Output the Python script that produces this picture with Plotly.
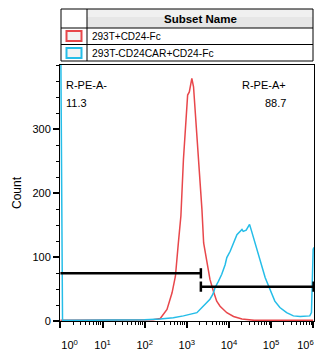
import plotly.graph_objects as go

# ---------------- data ----------------
red_name = "293T+CD24-Fc"
blue_name = "293T-CD24CAR+CD24-Fc"

red_log = [0.0, 0.5, 1.0, 1.5, 2.0, 2.2, 2.37, 2.53, 2.65, 2.73, 2.80, 2.86, 2.92, 2.99, 3.02,
           3.06, 3.12, 3.16, 3.20, 3.25, 3.30, 3.36, 3.40, 3.48, 3.55, 3.63, 3.71,
           3.79, 3.95, 4.11, 4.31, 4.6, 5.0, 5.5, 6.0]
red_count = [1, 1, 1, 1, 1, 2, 4, 18, 44, 70, 122, 164, 252, 330, 353,
             358, 379, 366, 330, 278, 226, 174, 122, 91, 65, 47, 31,
             23, 13, 7, 3, 1, 1, 1, 1]

blue_log = [0.0, 0.05, 0.5, 1.0, 1.5, 2.0, 2.37, 2.68, 2.92, 3.08, 3.24, 3.36, 3.48, 3.55,
            3.62, 3.67, 3.75, 3.83, 3.91, 3.95, 4.03, 4.11, 4.19, 4.31, 4.34,
            4.41, 4.49, 4.54, 4.62, 4.70, 4.78, 4.86, 4.94, 5.02, 5.09, 5.21,
            5.37, 5.53, 5.69, 5.92, 5.96, 6.0, 6.02]
blue_count = [520, 1, 1, 1, 1, 2, 3, 5, 8, 11, 13, 21, 29, 34,
              42, 52, 62, 73, 88, 99, 109, 122, 135, 143, 140,
              142, 151, 140, 122, 104, 86, 68, 55, 42, 31, 21,
              13, 8, 7, 8, 13, 112, 115]

gate_split_log = 3.334
gate_neg_y = 74.5
gate_pos_y = 53.7
gate_names = ["R-PE-A-", "R-PE-A+"]
gate_pcts = ["11.3", "88.7"]

y_tick_vals = [0, 100, 200, 300]
x_tick_exps = [0, 1, 2, 3, 4, 5, 6]

RED = "#e8474b"
BLUE = "#25bde8"
FONT = "Liberation Sans, Arial, sans-serif"

# ---------------- figure ----------------
fig = go.Figure()

fig.add_trace(go.Scatter(x=[10 ** v for v in red_log], y=red_count, mode="lines",
                         line=dict(color=RED, width=1.5), showlegend=False))
fig.add_trace(go.Scatter(x=[10 ** v for v in blue_log], y=blue_count, mode="lines",
                         line=dict(color=BLUE, width=1.5), showlegend=False))

# gates
xs = 10 ** gate_split_log
tk = 8
gx = [1, xs, None, xs, xs]
gy = [gate_neg_y, gate_neg_y, None, gate_neg_y - tk, gate_neg_y + tk]
fig.add_trace(go.Scatter(x=gx, y=gy, mode="lines", line=dict(color="black", width=2.5),
                         showlegend=False))
gx2 = [xs, 10 ** 6.02, None, xs, xs, None, 10 ** 6.01, 10 ** 6.01]
gy2 = [gate_pos_y, gate_pos_y, None, gate_pos_y - tk, gate_pos_y + tk, None,
       gate_pos_y - tk, gate_pos_y + tk]
fig.add_trace(go.Scatter(x=gx2, y=gy2, mode="lines", line=dict(color="black", width=2.5),
                         showlegend=False))

L, R, T, B = 60, 10, 65, 36
W, H = 324, 357
pw, ph = W - L - R, H - T - B


def px(x):
    return (x - L) / pw


def py(y):
    return (H - B - y) / ph


shapes = []
# table
shapes.append(dict(type="rect", xref="paper", yref="paper", x0=px(87), x1=px(313),
                   y0=py(28), y1=py(9), fillcolor="#e6e6e6", line=dict(width=0), layer="below"))
shapes.append(dict(type="rect", xref="paper", yref="paper", x0=px(87), x1=px(313),
                   y0=py(17), y1=py(9), fillcolor="#f0f0f0", line=dict(width=0), layer="below"))
shapes.append(dict(type="rect", xref="paper", yref="paper", x0=px(61), x1=px(313),
                   y0=py(61), y1=py(9), line=dict(color="black", width=1)))
for yy in (28, 44.5):
    shapes.append(dict(type="line", xref="paper", yref="paper", x0=px(61), x1=px(313),
                       y0=py(yy), y1=py(yy), line=dict(color="black", width=1)))
shapes.append(dict(type="line", xref="paper", yref="paper", x0=px(87), x1=px(87),
                   y0=py(9), y1=py(61), line=dict(color="black", width=1)))
for (y0, y1), c in (((31, 41), RED), ((48, 58), BLUE)):
    shapes.append(dict(type="rect", xref="paper", yref="paper", x0=px(66.5), x1=px(81.5),
                       y0=py(y1), y1=py(y0), fillcolor="#f3f3f3", line=dict(color=c, width=2)))

annotations = [
    dict(text="<b>Subset Name</b>", x=px(200), y=py(18.5), xref="paper", yref="paper",
         showarrow=False, font=dict(size=11.5, family=FONT, color="black"),
         xanchor="center", yanchor="middle"),
    dict(text=red_name, x=px(89.5), y=py(36), xref="paper", yref="paper", showarrow=False,
         font=dict(size=10, family=FONT, color="black"), xanchor="left", yanchor="middle"),
    dict(text=blue_name, x=px(89.5), y=py(53), xref="paper", yref="paper", showarrow=False,
         font=dict(size=10.3, family=FONT, color="black"), xanchor="left", yanchor="middle"),
    dict(text=gate_names[0], x=px(64), y=py(84.5), xref="paper", yref="paper", showarrow=False,
         font=dict(size=11, family=FONT, color="black"), xanchor="left", yanchor="middle"),
    dict(text=gate_pcts[0], x=px(64), y=py(103), xref="paper", yref="paper", showarrow=False,
         font=dict(size=11, family=FONT, color="black"), xanchor="left", yanchor="middle"),
    dict(text=gate_names[1], x=px(288), y=py(84.5), xref="paper", yref="paper", showarrow=False,
         font=dict(size=11, family=FONT, color="black"), xanchor="right", yanchor="middle"),
    dict(text=gate_pcts[1], x=px(288), y=py(103), xref="paper", yref="paper", showarrow=False,
         font=dict(size=11, family=FONT, color="black"), xanchor="right", yanchor="middle"),
]

minor_x = [m * 10 ** k for k in range(0, 6) for m in range(2, 10)]


def tick_label(e):
    s = "10<sup>%d</sup>" % e
    if e == x_tick_exps[0]:
        s = "&nbsp;" * 6 + s
    elif e == x_tick_exps[-1]:
        s = s + "&nbsp;" * 5
    return s


fig.update_layout(
    width=W, height=H,
    margin=dict(l=L, r=R, t=T, b=B, pad=0, autoexpand=False),
    plot_bgcolor="white", paper_bgcolor="white",
    font=dict(family=FONT, size=11, color="black"),
    shapes=shapes, annotations=annotations,
    xaxis=dict(type="log", range=[-0.01, 6.02], showgrid=False, zeroline=False,
               automargin=False, ticklabeloverflow="allow",
               showline=True, linecolor="black", linewidth=1, mirror=True,
               tickvals=[10 ** e for e in x_tick_exps],
               ticktext=[tick_label(e) for e in x_tick_exps],
               ticks="outside", ticklen=6, tickwidth=2, tickcolor="black",
               tickfont=dict(size=11, family=FONT, color="black"),
               ticklabelstandoff=8,
               minor=dict(tickvals=minor_x, ticks="outside", ticklen=3, tickwidth=1,
                          tickcolor="black", showgrid=False)),
    yaxis=dict(range=[0, 400], showgrid=False, zeroline=False, automargin=False,
               showline=True, linecolor="black", linewidth=1, mirror=True,
               tickvals=y_tick_vals, ticks="outside", ticklen=6, tickwidth=2,
               tickcolor="black", tickfont=dict(size=11, family=FONT, color="black"),
               title=dict(text="Count", font=dict(size=12, family=FONT, color="black"),
                          standoff=8),
               minor=dict(dtick=25, ticks="outside", ticklen=3, tickwidth=1,
                          tickcolor="black", showgrid=False)),
)

fig.write_html("out.html")
